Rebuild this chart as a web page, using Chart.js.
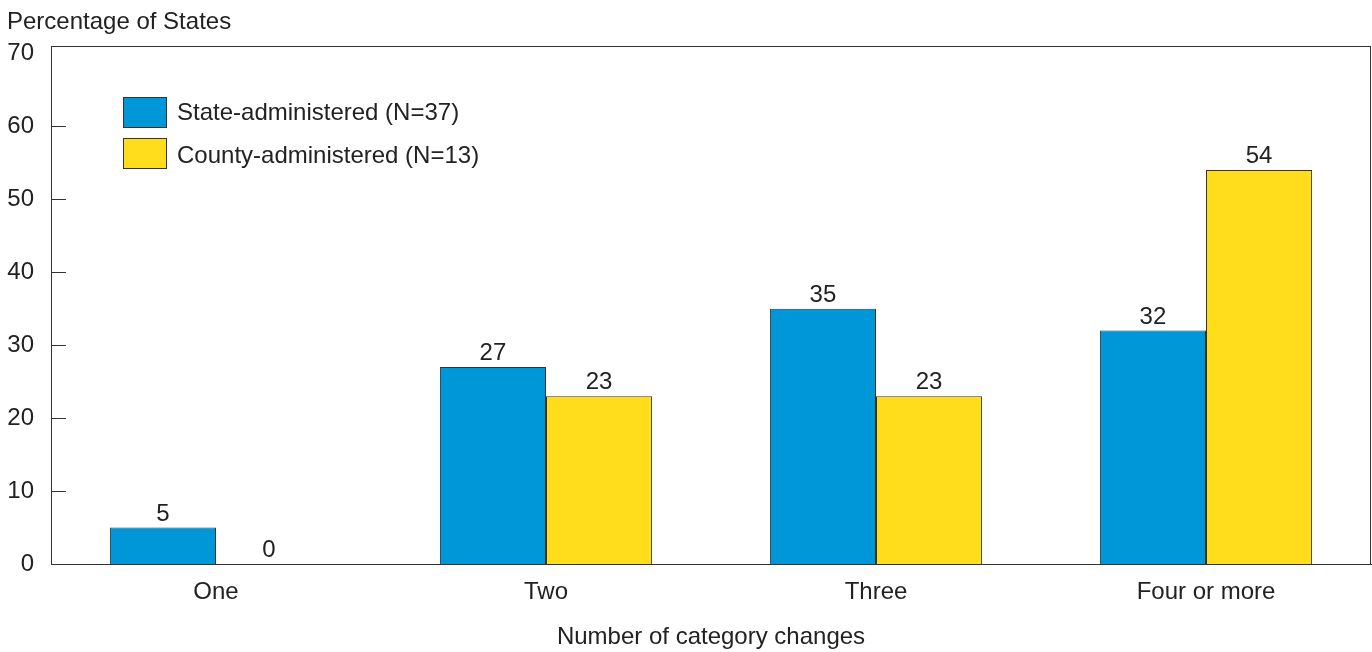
<!DOCTYPE html>
<html>
<head>
  <title>Category changes by administration type</title>
  <script src="https://cdn.jsdelivr.net/npm/chart.js"></script>
  <style>
    html, body {
      margin: 0;
      padding: 0;
      background: #fff;
    }
    #wrap {
      width: 1372px;
      height: 652px;
    }
  </style>
</head>
<body>
  <div id="wrap"><canvas id="changesChart"></canvas></div>

  <script>
    const categories = ['One', 'Two', 'Three', 'Four or more'];
    const stateValues = [5, 27, 35, 32];
    const countyValues = [0, 23, 23, 54];
    const seriesNames = ['State-administered (N=37)', 'County-administered (N=13)'];
    const yTicks = [0, 10, 20, 30, 40, 50, 60, 70];

    const FONT = '"Liberation Sans", Arial, Helvetica, sans-serif';
    const SIZE = 24;
    const INK = '#222';
    const BLUE = '#0097d8';
    const YELLOW = '#ffdd1c';

    // box around the plot, inward tick marks, value labels, legend, y title
    const decorations = {
      id: 'decorations',
      afterDatasetsDraw(chart) {
        const ctx = chart.ctx;
        const area = chart.chartArea;
        const y = chart.scales.y;

        ctx.save();
        ctx.strokeStyle = '#333';
        ctx.lineWidth = 1;
        ctx.strokeRect(area.left + 0.5, area.top + 0.5, area.right - area.left - 1, area.bottom - area.top);

        // tick marks on the inside of the axis
        yTicks.forEach(v => {
          if (v === 0 || v === 70) return;
          const py = Math.round(y.getPixelForValue(v)) + 0.5;
          ctx.beginPath();
          ctx.moveTo(area.left, py);
          ctx.lineTo(area.left + 15, py);
          ctx.stroke();
        });

        // value labels above each bar
        ctx.fillStyle = INK;
        ctx.font = SIZE + 'px ' + FONT;
        ctx.textAlign = 'center';
        ctx.textBaseline = 'alphabetic';
        chart.data.datasets.forEach((ds, i) => {
          chart.getDatasetMeta(i).data.forEach((bar, j) => {
            ctx.fillText(String(ds.data[j]), bar.x, bar.y - 7);
          });
        });

        // legend inside the plot
        ctx.textAlign = 'left';
        ctx.textBaseline = 'middle';
        chart.data.datasets.forEach((ds, i) => {
          const top = 97 + i * 41;
          ctx.fillStyle = ds.backgroundColor;
          ctx.fillRect(123.5, top + 0.5, 43, 30);
          ctx.strokeStyle = '#333';
          ctx.strokeRect(123.5, top + 0.5, 43, 30);
          ctx.fillStyle = INK;
          ctx.fillText(ds.label, 177, top + 16 + i * 2);
        });

        // y axis title
        ctx.fillText('Percentage of States', 7, 22);
        ctx.restore();
      }
    };

    new Chart(document.getElementById('changesChart'), {
      type: 'bar',
      data: {
        labels: categories,
        datasets: [
          {
            label: seriesNames[0],
            data: stateValues,
            backgroundColor: BLUE,
            borderColor: '#333',
            borderWidth: 1
          },
          {
            label: seriesNames[1],
            data: countyValues,
            backgroundColor: YELLOW,
            borderColor: '#333',
            borderWidth: 1
          }
        ]
      },
      options: {
        responsive: true,
        maintainAspectRatio: false,
        animation: false,
        layout: { padding: { top: 46, right: 1, left: 0, bottom: 0 } },
        datasets: {
          bar: { categoryPercentage: 0.643, barPercentage: 1.0 }
        },
        plugins: {
          legend: { display: false },
          tooltip: { enabled: false }
        },
        scales: {
          x: {
            grid: { display: false, drawTicks: false },
            border: { display: true, color: '#333', width: 1 },
            ticks: {
              color: INK,
              font: { family: FONT, size: SIZE },
              padding: 14
            },
            title: {
              display: true,
              text: 'Number of category changes',
              color: INK,
              font: { family: FONT, size: SIZE },
              padding: { top: 10, bottom: 0 }
            },
            afterFit(scale) { scale.height = 88; }
          },
          y: {
            min: 0,
            max: 71,
            afterBuildTicks(scale) { scale.ticks = yTicks.map(v => ({ value: v })); },
            grid: { display: false, drawTicks: false },
            border: { display: true, color: '#333', width: 1 },
            ticks: {
              color: INK,
              font: { family: FONT, size: SIZE },
              padding: 17
            },
            afterFit(scale) { scale.width = 51; }
          }
        }
      },
      plugins: [decorations]
    });
  </script>
</body>
</html>
